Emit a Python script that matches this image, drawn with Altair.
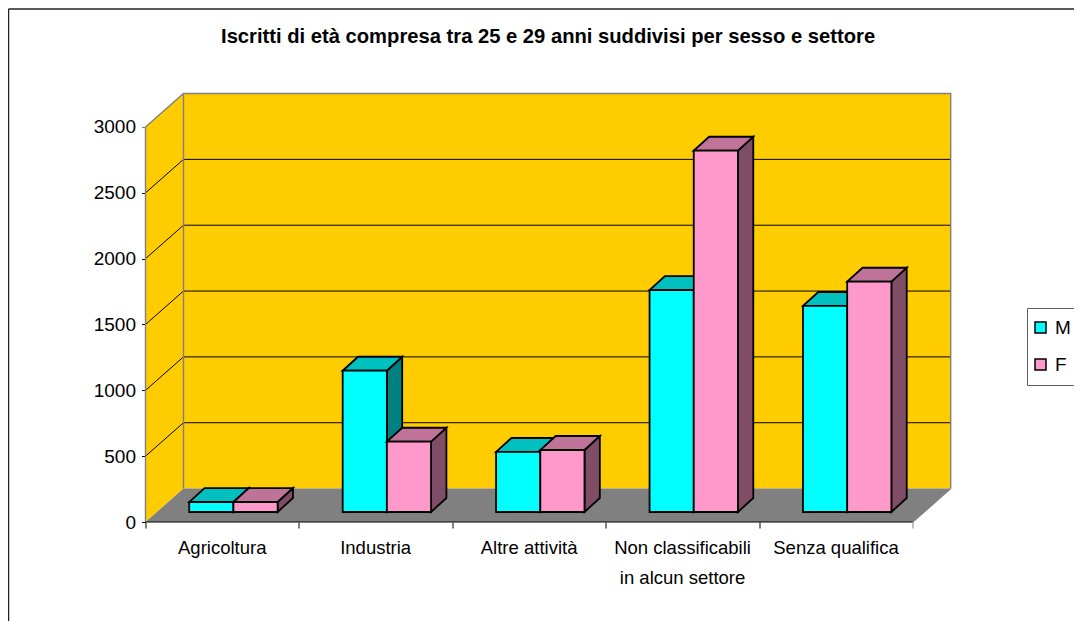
import altair as alt
import pandas as pd

categories = ["Agricoltura", "Industria", "Altre attività", "Non classificabili\nin alcun settore", "Senza qualifica"]
series_names = ["M", "F"]
values_m = [76, 1073, 456, 1686, 1565]
values_f = [76, 534, 471, 2744, 1749]
y_ticks = [0, 500, 1000, 1500, 2000, 2500, 3000]
title_text = "Iscritti di età compresa tra 25 e 29 anni suddivisi per sesso e settore"

FONT = "Liberation Sans"
N = len(categories)
YMAX = 3000
# projection of depth, in axis units
WALL_DX, WALL_DY = 0.2476, 254
PLANE_DX, PLANE_DY = 0.077, 76
BAR_DX, BAR_DY = 0.1, 106
BAR_START, BAR_W = 0.285, 0.288
X_DOMAIN = [0, N + WALL_DX]
Y_DOMAIN = [0, 3250.6]
xs = alt.Scale(domain=X_DOMAIN, nice=False, zero=False)
ys = alt.Scale(domain=Y_DOMAIN, nice=False, zero=False)

FRONT = {"M": "#00FFFF", "F": "#FF99CC"}
TOP = {"M": "#00BFBF", "F": "#BF7399"}
SIDE = {"M": "#008080", "F": "#804D66"}

tick_color = lambda top: {"condition": {"test": f"datum.value == {top}", "value": "#808080"}, "value": "black"}
x_axis = alt.Axis(values=list(range(N + 1)), labels=False, domain=False, grid=False,
                  tickSize=6, tickWidth=1, tickColor=tick_color(N))
y_axis = alt.Axis(values=y_ticks, format="d", domain=False, grid=False, tickSize=4, tickWidth=1,
                  tickColor=tick_color(YMAX),
                  labelFont=FONT, labelFontSize=19, labelColor="black", labelPadding=6)
X = alt.X("x:Q", scale=xs, title=None, axis=x_axis)
Y = alt.Y("y:Q", scale=ys, title=None, axis=y_axis)
BAR_SW = 1.8


def area(rows, fill, stroke, sw=BAR_SW):
    df = pd.DataFrame(rows, columns=["poly", "x", "y", "y2"])
    return alt.Chart(df).mark_area(fill=fill, stroke=stroke, strokeWidth=sw, interpolate="linear").encode(
        x=X, y=Y, y2="y2:Q", detail="poly:N",
    )


def line(rows, color, sw):
    df = pd.DataFrame(rows, columns=["poly", "o", "x", "y"])
    return alt.Chart(df).mark_line(color=color, strokeWidth=sw, interpolate="linear").encode(
        x=X, y=Y, order="o:Q", detail="poly:N",
    )


def para(name, x0, x1, y, dx, dy):
    return [[name, x0, y, y], [name, x0 + dx, y, y + dy], [name, x1, y, y + dy], [name, x1 + dx, y + dy, y + dy]]


layers = []

# walls and floor
layers.append(area([["left", 0, 0, YMAX], ["left", WALL_DX, WALL_DY, YMAX + WALL_DY]], "#FFCC00", "#FFCC00", 0))
layers.append(area([["back", WALL_DX, WALL_DY, YMAX + WALL_DY], ["back", N + WALL_DX, WALL_DY, YMAX + WALL_DY]], "#FFCC00", "#FFCC00", 0))
layers.append(area(para("floor", 0, N, 0, WALL_DX, WALL_DY), "#808080", "#808080", 0))

# gridlines
grid_rows = []
for v in y_ticks[1:-1]:
    grid_rows += [[v, 0, 0, v], [v, 1, WALL_DX, v + WALL_DY], [v, 2, N + WALL_DX, v + WALL_DY]]
layers.append(line(grid_rows, "black", 1))

# wall edges
edges = [
    ["a", 0, 0, 0], ["a", 1, 0, YMAX], ["a", 2, WALL_DX, YMAX + WALL_DY], ["a", 3, N + WALL_DX, YMAX + WALL_DY], ["a", 4, N + WALL_DX, WALL_DY],
    ["b", 0, WALL_DX, YMAX + WALL_DY], ["b", 1, WALL_DX, WALL_DY],
    ["c", 0, N, 0], ["c", 1, N + WALL_DX, WALL_DY],
]
layers.append(line(edges, "#808080", 1.4))
layers.append(line([["d", 0, 0, 0], ["d", 1, N, 0]], "black", 1.2))

# bars
color = alt.Color(
    "s:N",
    scale=alt.Scale(domain=series_names, range=[FRONT[s] for s in series_names]),
    legend=alt.Legend(
        orient="none", legendX=881.5, legendY=214, title=None, padding=10, symbolOffset=-6,
        fillColor="white", strokeColor="#606060",
        symbolType="square", symbolSize=121, symbolStrokeColor="black", symbolStrokeWidth=1.5,
        symbolOpacity=1, labelFont=FONT, labelFontSize=19, labelColor="black", labelOffset=5, rowPadding=17,
    ),
)
for si, (s, vals) in enumerate(zip(series_names, [values_m, values_f])):
    side, top, front = [], [], []
    for c, v in enumerate(vals):
        x0 = c + BAR_START + si * BAR_W
        x1 = x0 + BAR_W
        t = PLANE_DY + v
        side += [[f"{c}", x1, PLANE_DY, t], [f"{c}", x1 + BAR_DX, PLANE_DY + BAR_DY, t + BAR_DY]]
        top += para(f"{c}", x0, x1, t, BAR_DX, BAR_DY)
        front.append({"s": s, "x": x0, "x2": x1, "y": PLANE_DY, "y2": t})
    layers.append(area(side, SIDE[s], "black"))
    layers.append(area(top, TOP[s], "black"))
    layers.append(
        alt.Chart(pd.DataFrame(front)).mark_rect(stroke="black", strokeWidth=BAR_SW, opacity=1).encode(
            x=X, x2="x2:Q", y=Y, y2="y2:Q", color=color,
        )
    )

# category labels
lab_df = pd.DataFrame({"c": categories, "x": [i + 0.5 for i in range(N)], "y": [0] * N})
layers.append(
    alt.Chart(lab_df).mark_text(font=FONT, fontSize=18.5, color="black", baseline="top", align="center",
                                lineBreak="\n", lineHeight=30, dy=16.5).encode(x=X, y=Y, text="c:N")
)

# chart title
title_df = pd.DataFrame({"t": [title_text], "x": [sum(X_DOMAIN) / 2], "y": [Y_DOMAIN[1]]})
layers.append(
    alt.Chart(title_df).mark_text(font=FONT, fontSize=20.2, fontWeight="bold", color="black",
                                  align="center", baseline="alphabetic", dy=-51).encode(x=X, y=Y, text="t:N")
)

# chart frame (top and left edges)
layers.append(alt.Chart(pd.DataFrame({"a": [0]})).mark_rule(color="#222222", strokeWidth=1.5).encode(
    x=alt.value(-137), x2=alt.value(940), y=alt.value(-85)))
layers.append(alt.Chart(pd.DataFrame({"a": [0]})).mark_rule(color="#222222", strokeWidth=1.5).encode(
    x=alt.value(-137), y=alt.value(-85), y2=alt.value(530)))

chart = alt.layer(*layers).properties(
    width=805.2, height=428,
    padding={"left": 137.5, "top": 86, "right": 1066 - 137.5 - 805.2, "bottom": 613 - 86 - 428},
    autosize=alt.AutoSizeParams(type="none"),
    background="white",
).configure_view(stroke=None)

chart.save("out.html", embed_options={"renderer": "svg", "actions": False})
